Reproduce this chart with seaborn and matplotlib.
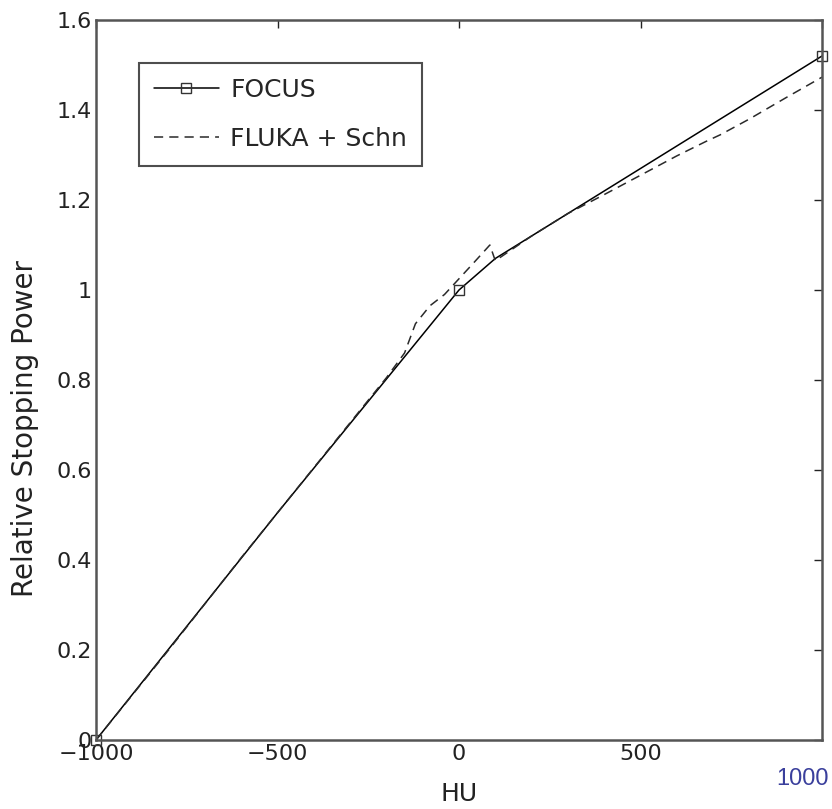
import numpy as np
import pandas as pd
import matplotlib
matplotlib.use("Agg")
import matplotlib.pyplot as plt
import seaborn as sns
from matplotlib.transforms import ScaledTranslation

# ---- data ----
hu_focus = [-1000, -500, 0, 100, 1000]
rsp_focus = [0.0, 0.505, 1.0, 1.07, 1.52]

hu_fluka = [-1000, -800, -600, -400, -200, -150, -120, -80, -40, 0, 40, 85, 100,
            200, 300, 400, 500, 600, 680, 720, 800, 900, 1000]
rsp_fluka = [0.0, 0.2, 0.405, 0.605, 0.805, 0.86, 0.925, 0.965, 0.99, 1.025, 1.06, 1.10, 1.065,
             1.12, 1.17, 1.212, 1.255, 1.298, 1.33, 1.345, 1.38, 1.427, 1.473]

series_names = ["FOCUS", "FLUKA + Schn"]
xticks = [-1000, -500, 0, 500, 1000]
xtick_labels = ["\u22121000", "\u2212500", "0", "500", "1000"]
yticks = [0, 0.2, 0.4, 0.6, 0.8, 1.0, 1.2, 1.4, 1.6]
ytick_labels = ["0", "0.2", "0.4", "0.6", "0.8", "1", "1.2", "1.4", "1.6"]

sns.set_theme(style="white")
plt.rcParams['font.family'] = ['DejaVu Sans']

fig = plt.figure(figsize=(8.32, 8.09), dpi=100)
ax = fig.add_axes([96 / 832, 1 - 740 / 809, 726 / 832, 720 / 809])

df_focus = pd.DataFrame({"HU": hu_focus, "RSP": rsp_focus})
df_fluka = pd.DataFrame({"HU": hu_fluka, "RSP": rsp_fluka})

sns.lineplot(data=df_focus, x="HU", y="RSP", ax=ax, color="black", linewidth=1.1,
             marker="s", markersize=7, markerfacecolor="none", markeredgecolor="#333",
             markeredgewidth=1.0, markevery=[0, 2, 4], label=series_names[0], sort=False,
             clip_on=False)
sns.lineplot(data=df_fluka, x="HU", y="RSP", ax=ax, color="#2a2a2a", linewidth=1.1,
             linestyle=(0, (6, 4)), label=series_names[1], sort=False)

ax.set_xlim(-1000, 1000)
ax.set_ylim(0, 1.6)
ax.set_xticks(xticks)
ax.set_xticklabels(xtick_labels)
ax.set_yticks(yticks)
ax.set_yticklabels(ytick_labels)

ax.tick_params(direction="in", length=6, width=1, top=True, right=True,
               labelsize=16, pad=3, colors="#222222")
for s in ax.spines.values():
    s.set_visible(True)
    s.set_color("#555555")
    s.set_linewidth(1.8)

# blue, shifted "1000" tick label as in the reference
lab = ax.get_xticklabels()[-1]
lab.set_color("#3a3f9c")
lab.set_fontfamily("Liberation Sans")
lab.set_fontsize(17)
lab.set_transform(lab.get_transform() + ScaledTranslation(-19 / 100, -24 / 100, fig.dpi_scale_trans))

ax.set_xlabel("HU", fontsize=18, color="#222222")
ax.xaxis.set_label_coords(0.5, -0.058)
ax.set_ylabel("Relative Stopping Power", fontsize=20, color="#222222")
ax.yaxis.set_label_coords(-0.079, 0.433)

leg = ax.legend(loc="upper left", bbox_to_anchor=(0.059, 0.94), borderaxespad=0,
                fontsize=18, frameon=True, fancybox=False, edgecolor="#222222",
                handlelength=2.6, handletextpad=0.45, labelspacing=1.0, borderpad=0.6)
leg.get_frame().set_linewidth(1.5)

fig.savefig("out.png", dpi=100)
